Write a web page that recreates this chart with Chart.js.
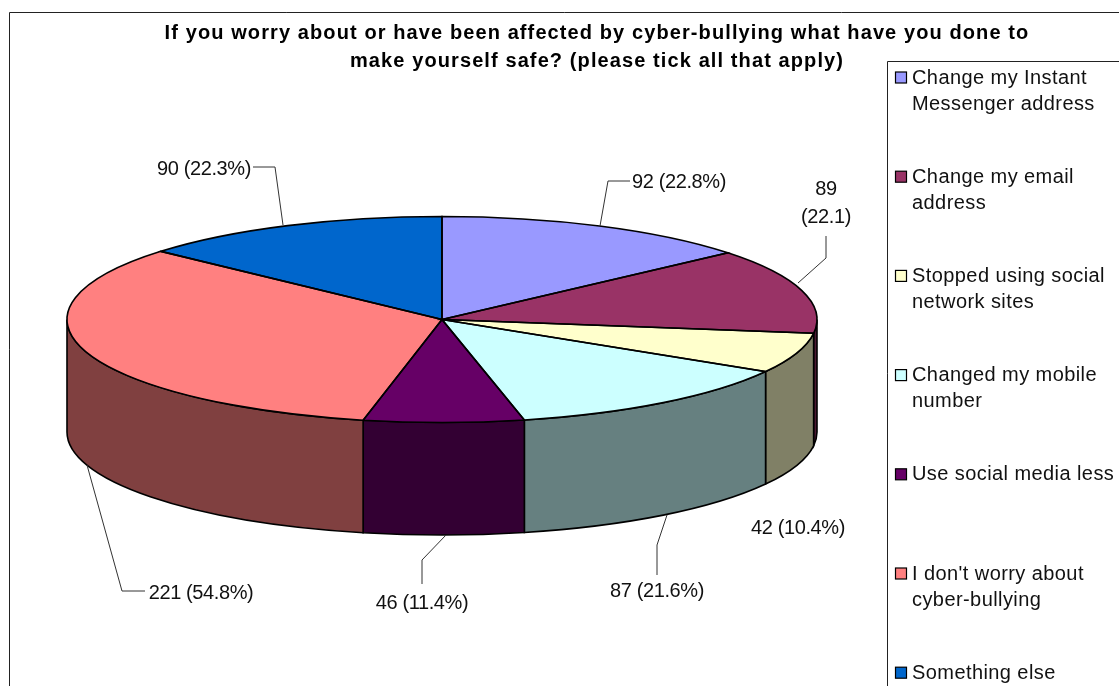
<!DOCTYPE html>
<html>
<head>
<meta charset="utf-8">
<style>html,body{margin:0;padding:0;background:#fff;overflow:hidden}#w{width:1119px;height:686px;position:relative}</style>
<script src="https://cdn.jsdelivr.net/npm/chart.js@4/dist/chart.umd.min.js"></script>
</head>
<body>
<div id="w"><canvas id="c" width="1119" height="686"></canvas></div>
<script>
const titleLines = ['If you worry about or have been affected by cyber-bullying what have you done to', 'make yourself safe? (please tick all that apply)'];
const categories = ['Change my Instant Messenger address', 'Change my email address', 'Stopped using social network sites', 'Changed my mobile number', 'Use social media less', "I don't worry about cyber-bullying", 'Something else'];
const legendLines = [['Change my Instant', 'Messenger address'], ['Change my email', 'address'], ['Stopped using social', 'network sites'], ['Changed my mobile', 'number'], ['Use social media less'], ["I don't worry about", 'cyber-bullying'], ['Something else']];
const values = [92, 89, 42, 87, 46, 221, 90];
const percents = ['22.8%', '22.1', '10.4%', '21.6%', '11.4%', '54.8%', '22.3%'];
const colors = ['#9999FF', '#993366', '#FFFFCC', '#CCFFFF', '#660066', '#FF8080', '#0066CC'];
const wallColors = ['#4D4D80', '#4D1933', '#808066', '#668080', '#330033', '#804040', '#003366'];

// label layout (annotation placement, not data)
const labelSpots = [[679, 182], [826, 189], [798, 528], [657, 591], [422, 603], [201, 593], [204, 169]];
const labelBroken = [false, true, false, false, false, false, false];
const leaders = [
  [[630, 181], [608, 181], [600, 226]],
  [[826, 236], [826, 258], [798, 283]],
  [],
  [[657, 575], [657, 545], [667, 515]],
  [[422, 584], [422, 560], [446, 535]],
  [[145, 591], [122, 591], [87, 465]],
  [[253, 167], [275, 167], [283, 225]]
];
const RX = 375, RY = 103, DEPTH = 112.5;
const FONT = '"Liberation Sans", Arial, sans-serif';

const pie3d = {
  id: 'pie3d',
  beforeDraw(chart) {
    const c = chart.ctx;
    c.save();
    c.fillStyle = '#fff';
    c.fillRect(0, 0, chart.width, chart.height);
    c.strokeStyle = '#222';
    c.lineWidth = 1;
    c.beginPath();
    c.moveTo(9.5, chart.height);
    c.lineTo(9.5, 12.5);
    c.lineTo(chart.width, 12.5);
    c.stroke();
    c.restore();
    c.letterSpacing = '1.1px';
  },
  beforeDatasetsDraw(chart) {
    const c = chart.ctx;
    c.letterSpacing = '0px';
    const arcs = chart.getDatasetMeta(0).data;
    arcs.forEach((a, i) => {
      const TAU = Math.PI * 2;
      let s = a.startAngle, e = a.endAngle;
      if (e <= 0) { s += TAU; e += TAU; }
      const from = Math.max(s, 0), to = Math.min(e, Math.PI);
      if (to <= from) return;
      c.save();
      c.beginPath();
      c.ellipse(a.x, a.y, RX, RY, 0, from, to);
      c.ellipse(a.x, a.y + DEPTH, RX, RY, 0, to, from, true);
      c.closePath();
      c.fillStyle = wallColors[i];
      c.fill();
      c.strokeStyle = '#000';
      c.lineWidth = 1.6;
      c.stroke();
      c.restore();
    });
  },
  beforeDatasetDraw(chart) {
    const a = chart.getDatasetMeta(0).data[0];
    const c = chart.ctx;
    c.save();
    c.translate(a.x, a.y);
    c.scale(RX / a.outerRadius, RY / a.outerRadius);
    c.translate(-a.x, -a.y);
  },
  afterDatasetDraw(chart) {
    chart.ctx.restore();
  },
  afterDatasetsDraw(chart) {
    const c = chart.ctx;
    const arcs = chart.getDatasetMeta(0).data;
    arcs.forEach(a => {
      c.save();
      c.beginPath();
      c.moveTo(a.x, a.y);
      c.ellipse(a.x, a.y, RX, RY, 0, a.startAngle, a.endAngle);
      c.closePath();
      c.strokeStyle = '#000';
      c.lineWidth = 1.6;
      c.stroke();
      c.restore();
    });

    // leader lines
    c.save();
    c.strokeStyle = '#333';
    c.lineWidth = 1;
    leaders.forEach(pts => {
      if (!pts.length) return;
      c.beginPath();
      pts.forEach((p, k) => k ? c.lineTo(p[0], p[1]) : c.moveTo(p[0], p[1]));
      c.stroke();
    });
    // data labels
    c.fillStyle = '#111';
    c.font = '20px ' + FONT;
    c.letterSpacing = '-0.4px';
    c.textAlign = 'center';
    c.textBaseline = 'middle';
    values.forEach((v, i) => {
      const [x, y] = labelSpots[i];
      if (labelBroken[i]) {
        c.fillText(String(v), x, y);
        c.fillText('(' + percents[i] + ')', x, y + 28);
      } else {
        c.fillText(v + ' (' + percents[i] + ')', x, y);
      }
    });
    c.restore();

    // legend
    c.save();
    c.strokeStyle = '#222';
    c.lineWidth = 1;
    c.beginPath();
    c.moveTo(887.5, chart.height);
    c.lineTo(887.5, 61.5);
    c.lineTo(chart.width, 61.5);
    c.stroke();
    c.font = '20px ' + FONT;
    c.letterSpacing = '0.42px';
    c.textAlign = 'left';
    c.textBaseline = 'middle';
    legendLines.forEach((lines, i) => {
      const y = 78 + i * 99.2;
      c.fillStyle = colors[i];
      c.fillRect(895.5, y - 6, 11, 11);
      c.strokeStyle = '#000';
      c.lineWidth = 1.2;
      c.strokeRect(895.5, y - 6, 11, 11);
      c.fillStyle = '#111';
      lines.forEach((t, k) => c.fillText(t, 912, y + k * 26));
    });
    c.restore();
  },
  afterLayout(chart) {
    chart.titleBlock.left += 155;
    chart.titleBlock.right += 155;
  }
};

new Chart(document.getElementById('c'), {
  type: 'pie',
  data: {
    labels: categories,
    datasets: [{
      data: values,
      backgroundColor: colors,
      borderWidth: 0,
      radius: 240,
      clip: false
    }]
  },
  options: {
    responsive: false,
    animation: false,
    events: [],
    layout: { padding: { left: 0, right: 235, top: 0, bottom: 122 } },
    plugins: {
      legend: { display: false },
      tooltip: { enabled: false },
      title: {
        display: true,
        text: titleLines,
        color: '#000',
        padding: { top: 19, bottom: 0 },
        font: { family: FONT, size: 20, weight: 'bold', lineHeight: 1.4 }
      }
    }
  },
  plugins: [pie3d]
});
</script>
</body>
</html>
